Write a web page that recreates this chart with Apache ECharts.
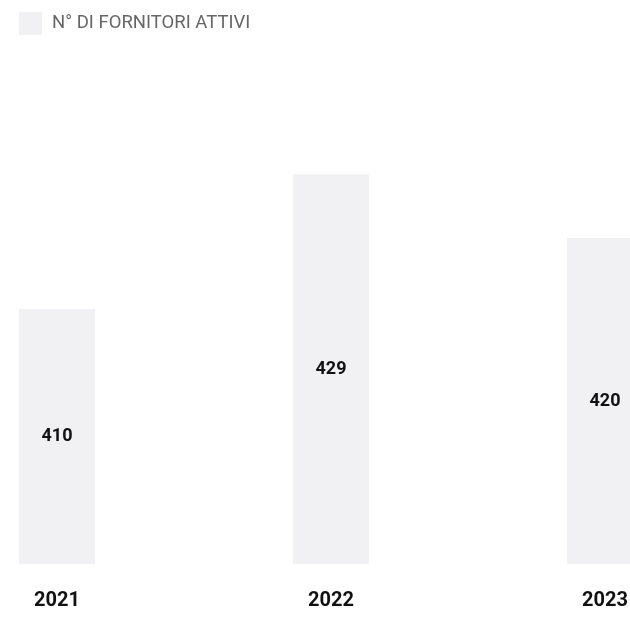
<!DOCTYPE html>
<html>
<head>
<meta charset="utf-8">
<script src="https://cdn.jsdelivr.net/npm/echarts@6/dist/echarts.min.js"></script>
<style>
  html, body { margin: 0; padding: 0; background: #ffffff; }
  #chart { width: 630px; height: 630px; }
</style>
</head>
<body>
<div id="chart"></div>
<script>
// Active suppliers per year
const years = ['2021', '2022', '2023'];
const suppliers = [410, 429, 420];
const seriesName = 'N° DI FORNITORI ATTIVI';

const barColor = '#f1f1f3';

const chart = echarts.init(document.getElementById('chart'), null, { renderer: 'canvas' });

chart.setOption({
  animation: false,
  backgroundColor: '#ffffff',
  legend: {
    left: 14,
    top: 7,
    icon: 'rect',
    itemWidth: 23,
    itemHeight: 23,
    textStyle: {
      fontFamily: 'Roboto',
      fontSize: 18.5,
      color: '#666666',
      padding: [0, 0, 0, 5]
    },
    data: [seriesName]
  },
  grid: {
    left: -80,
    right: -112,
    top: 68,
    bottom: 66,
    outerBoundsMode: 'none',
    containLabel: false
  },
  xAxis: {
    type: 'category',
    data: years,
    axisLine: { show: false },
    axisTick: { show: false },
    axisLabel: {
      margin: 27,
      fontFamily: 'Roboto',
      fontWeight: 'bold',
      fontSize: 20,
      color: '#111111'
    }
  },
  yAxis: {
    type: 'value',
    min: 374,
    max: 444,
    show: false,
    splitLine: { show: false }
  },
  series: [{
    name: seriesName,
    type: 'bar',
    data: suppliers,
    barWidth: 76,
    itemStyle: { color: barColor },
    label: {
      show: true,
      position: 'inside',
      fontFamily: 'Roboto',
      fontWeight: 'bold',
      fontSize: 18,
      color: '#111111'
    }
  }]
});
</script>
</body>
</html>
